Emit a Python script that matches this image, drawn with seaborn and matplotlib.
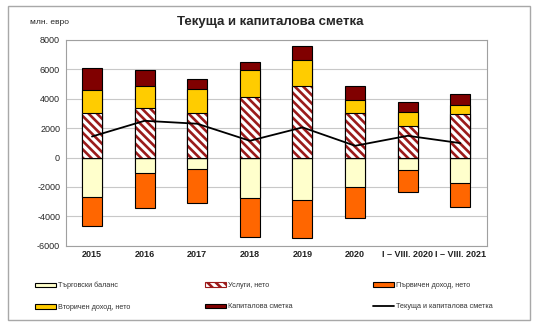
import numpy as np
import pandas as pd
import matplotlib
matplotlib.use("Agg")
import matplotlib.pyplot as plt
import seaborn as sns
from matplotlib.patches import Patch, Rectangle
from matplotlib.lines import Line2D

categories = ["2015", "2016", "2017", "2018", "2019", "2020", "I – VIII. 2020", "I – VIII. 2021"]
trade_balance = [-2680, -1020, -800, -2730, -2910, -1980, -820, -1730]
services = [3030, 3370, 3030, 4095, 4850, 3030, 2120, 2935]
primary_income = [-2000, -2410, -2270, -2680, -2590, -2115, -1500, -1615]
secondary_income = [1590, 1525, 1660, 1845, 1820, 860, 950, 665]
capital_account = [1455, 1070, 635, 590, 905, 985, 730, 700]
current_capital = [1430, 2500, 2300, 1140, 2050, 800, 1480, 980]

labels = ["Търговски баланс", "Услуги, нето", "Първичен доход, нето",
          "Вторичен доход, нето", "Капиталова сметка", "Текуща и капиталова сметка"]

C_TRADE = "#FFFFCC"
C_SERV = "#9B1B1B"
C_PRIM = "#FF6600"
C_SEC = "#FFCC00"
C_CAP = "#800000"
HATCH = "\\\\\\\\"

sns.set_style("white")
plt.rcParams["font.family"] = ["Liberation Sans", "DejaVu Sans"]
plt.rcParams["hatch.linewidth"] = 1.9

df = pd.DataFrame({
    "cat": categories,
    "trade": trade_balance,
    "serv": services,
    "prim": primary_income,
    "sec": secondary_income,
    "cap": capital_account,
})
df["neg_total"] = df["trade"] + df["prim"]
df["pos_sec"] = df["serv"] + df["sec"]
df["pos_total"] = df["pos_sec"] + df["cap"]

fig = plt.figure(figsize=(5.37, 3.25), dpi=100)
ax = fig.add_axes([0.1223, 0.244, 0.784, 0.633])

W = 0.38
LW = 0.8
common = dict(x="cat", order=categories, width=W, ax=ax, edgecolor="black", linewidth=LW, saturation=1)

sns.barplot(data=df, y="neg_total", color=C_PRIM, **common)
sns.barplot(data=df, y="trade", color=C_TRADE, **common)
sns.barplot(data=df, y="pos_total", color=C_CAP, **common)
sns.barplot(data=df, y="pos_sec", color=C_SEC, **common)
n_before = len(ax.patches)
sns.barplot(data=df, y="serv", color="white", **common)
for p in ax.patches[n_before:]:
    p.set_hatch(HATCH)
    p.set_edgecolor(C_SERV)
    p.set_linewidth(0)
sns.barplot(data=df, y="serv", color="black", fill=False, x="cat", order=categories,
            width=W, ax=ax, linewidth=LW)

sns.lineplot(x=np.arange(len(categories)), y=current_capital, color="black", linewidth=1.3, ax=ax)

ax.set_xlim(-0.5, len(categories) - 0.5)
ax.set_ylim(-6000, 8000)
ax.set_yticks(np.arange(-6000, 8001, 2000))
ax.set_yticklabels([f"{v}" for v in range(-6000, 8001, 2000)], fontsize=6.5)
ax.set_xticks(np.arange(len(categories)))
ax.set_xticklabels(categories, fontsize=6.5, fontweight="bold", color="#222222")
ax.set_xlabel("")
ax.set_ylabel("")
ax.grid(axis="y", color="#C8C8C8", linewidth=0.8)
ax.set_axisbelow(True)
for s in ax.spines.values():
    s.set_color("#A0A0A0")
    s.set_linewidth(0.8)
ax.tick_params(axis="both", length=0, pad=3)
ax.tick_params(axis="y", pad=4)

fig.text(270 / 537, 1 - 22 / 325, "Текуща и капиталова сметка", fontsize=9.5,
         fontweight="bold", ha="center", va="center")
fig.text(30 / 537, 1 - 23 / 325, "млн. евро", fontsize=6, ha="left", va="center")

# outer frame
fig.patches.append(Rectangle((8 / 537, 1 - 320 / 325), (530 - 8) / 537, (320 - 6) / 325,
                             transform=fig.transFigure, fill=False, edgecolor="#A8A8A8",
                             linewidth=1.0))

h_trade = Patch(facecolor=C_TRADE, edgecolor="black", linewidth=0.8)
h_serv = Patch(facecolor="white", edgecolor=C_SERV, hatch=HATCH, linewidth=0.8)
h_prim = Patch(facecolor=C_PRIM, edgecolor="black", linewidth=0.8)
h_sec = Patch(facecolor=C_SEC, edgecolor="black", linewidth=0.8)
h_cap = Patch(facecolor=C_CAP, edgecolor="black", linewidth=0.8)
h_line = Line2D([0], [0], color="black", linewidth=1.3)

cols = [([h_trade, h_sec], [labels[0], labels[3]], 35),
        ([h_serv, h_cap], [labels[1], labels[4]], 205),
        ([h_prim, h_line], [labels[2], labels[5]], 373)]
for hs, ls, xpx in cols:
    fig.legend(hs, ls, loc="upper left", bbox_to_anchor=(xpx / 537, 1 - 282 / 325),
               frameon=False, fontsize=5.2, handlelength=2.9, handleheight=0.55,
               handletextpad=0.3, labelspacing=2.0, borderpad=0, borderaxespad=0,
               labelcolor="#333333")

fig.savefig("out.png", dpi=100)
